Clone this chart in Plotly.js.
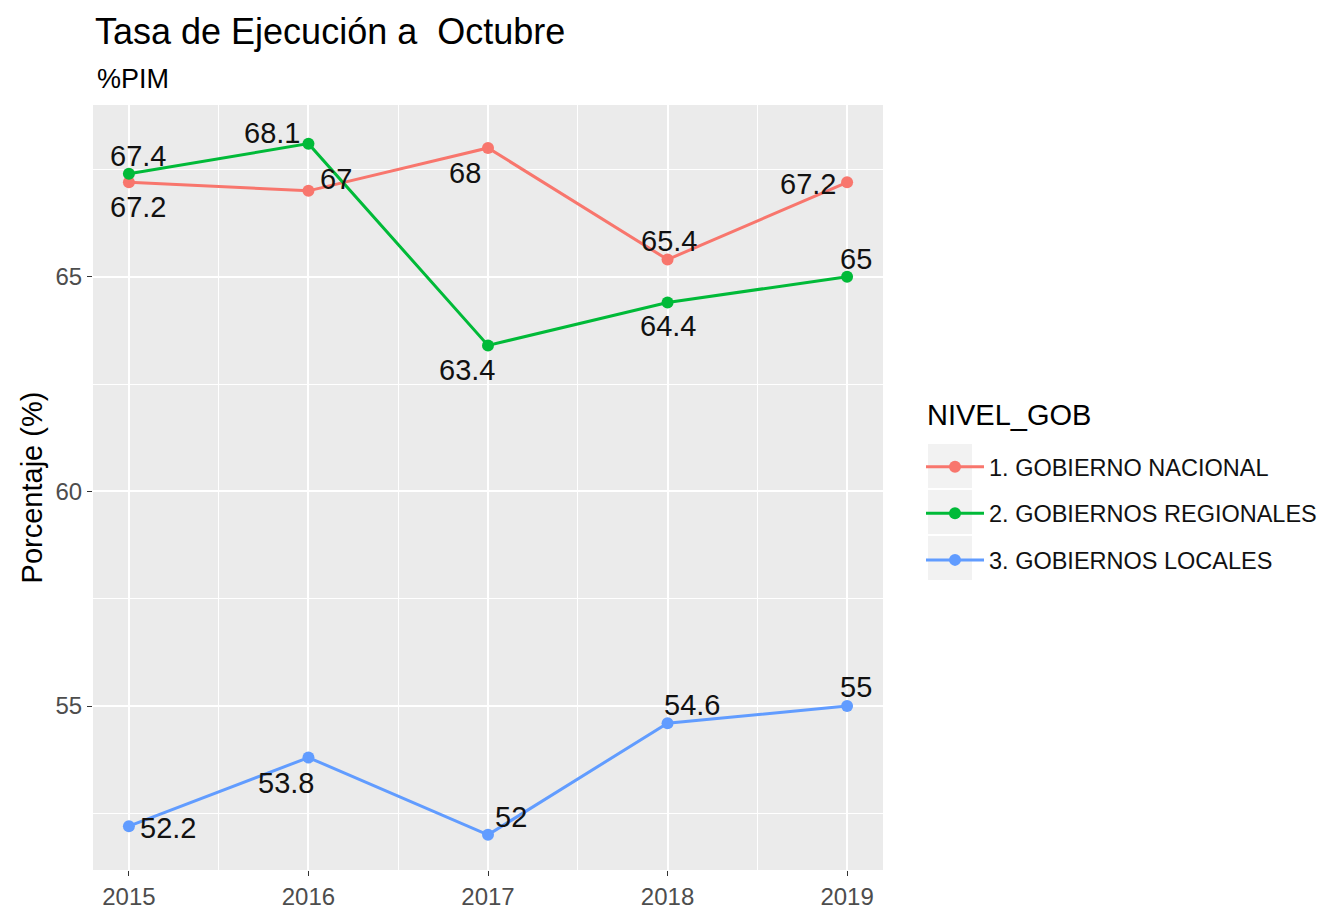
<!DOCTYPE html>
<html>
<head>
<meta charset="utf-8">
<script src="https://cdn.plot.ly/plotly-3.0.1.min.js"></script>
<style>
  body { margin: 0; background: #fff; }
  #chart { width: 1319px; height: 910px; }
</style>
</head>
<body>
<div id="chart"></div>
<script>
// Años y tasas de ejecución (%PIM)
var years = [2015, 2016, 2017, 2018, 2019];
var nacional = [67.2, 67, 68, 65.4, 67.2];
var regionales = [67.4, 68.1, 63.4, 64.4, 65];
var locales = [52.2, 53.8, 52, 54.6, 55];

var names = ['1. GOBIERNO NACIONAL', '2. GOBIERNOS REGIONALES', '3. GOBIERNOS LOCALES'];
var colors = ['#F8766D', '#00BA38', '#619CFF'];

// desplazamiento de cada etiqueta respecto a su punto (px, [dx, dy] con dy hacia arriba)
var shiftNac = [[9, -25], [28, 12], [-23, -25], [1, 19], [-39, -2]];
var shiftReg = [[9, 18], [-36, 11], [-21, -25], [0, -24], [9, 18]];
var shiftLoc = [[39, -2], [-22, -25], [23, 18], [24, 18], [9, 19]];

function serie(vals, i) {
  return {
    x: years,
    y: vals,
    name: names[i],
    legendgroup: 'g' + i,
    type: 'scatter',
    mode: 'lines+markers',
    line: { color: colors[i], width: 3 },
    marker: { color: colors[i], size: 12 },
    cliponaxis: false
  };
}

var data = [
  serie(nacional, 0),
  serie(regionales, 1),
  serie(locales, 2)
];

function etiquetas(vals, shifts) {
  return vals.map(function (v, j) {
    return {
      x: years[j], y: v, xref: 'x', yref: 'y',
      text: String(v), showarrow: false,
      xshift: shifts[j][0], yshift: shifts[j][1],
      font: { family: 'Liberation Sans, Arial', size: 29, color: '#111' }
    };
  });
}

var annotations = []
  .concat(etiquetas(nacional, shiftNac))
  .concat(etiquetas(regionales, shiftReg))
  .concat(etiquetas(locales, shiftLoc));

annotations.push({
  xref: 'paper', yref: 'paper', x: (95 - 93) / 790, y: (870 - 79) / 765,
  xanchor: 'left', yanchor: 'middle', showarrow: false,
  text: '%PIM', font: { size: 27, color: '#000' }
});
annotations.push({
  xref: 'paper', yref: 'paper', x: (925 - 93) / 790, y: (870 - 415) / 765,
  xanchor: 'left', yanchor: 'middle', showarrow: false,
  text: 'NIVEL_GOB', font: { size: 29, color: '#000' }
});

// cajas grises de la leyenda
var keyBoxes = [0, 1, 2].map(function (k) {
  return {
    type: 'rect', xref: 'paper', yref: 'paper', layer: 'below',
    x0: (928 - 93) / 790, x1: (972 - 93) / 790,
    y0: (870 - (444 + 46 * k + 44)) / 765, y1: (870 - (444 + 46 * k)) / 765,
    fillcolor: '#F2F2F2', line: { width: 0 }
  };
});

var layout = {
  width: 1319,
  height: 910,
  paper_bgcolor: '#ffffff',
  plot_bgcolor: '#EBEBEB',
  font: { family: 'Liberation Sans, Arial', color: '#000' },
  margin: { l: 93, r: 436, t: 105, b: 40 },
  title: {
    text: 'Tasa de Ejecución a  Octubre',
    font: { size: 36, color: '#000' },
    xref: 'container', x: 95 / 1319, xanchor: 'left',
    yref: 'container', y: 1 - 31 / 910, yanchor: 'middle'
  },
  xaxis: {
    range: [2014.8, 2019.2],
    tickvals: years,
    ticks: 'outside', ticklen: 5, tickcolor: '#333', tickwidth: 1,
    tickfont: { size: 24, color: '#4D4D4D' },
    showgrid: true, gridcolor: '#ffffff', gridwidth: 2,
    minor: { dtick: 0.5, tick0: 2014.5, showgrid: true, gridcolor: '#ffffff', gridwidth: 1 },
    zeroline: false, showline: false
  },
  yaxis: {
    range: [51.18, 69.0],
    tickvals: [55, 60, 65],
    ticks: 'outside', ticklen: 5, tickcolor: '#333', tickwidth: 1,
    tickfont: { size: 24, color: '#4D4D4D' },
    showgrid: true, gridcolor: '#ffffff', gridwidth: 2,
    minor: { dtick: 2.5, tick0: 52.5, showgrid: true, gridcolor: '#ffffff', gridwidth: 1 },
    zeroline: false, showline: false,
    title: { text: 'Porcentaje (%)', font: { size: 29, color: '#000' }, standoff: 4 }
  },
  annotations: annotations,
  shapes: keyBoxes,
  showlegend: true,
  legend: {
    xref: 'container', x: 921 / 1319, xanchor: 'left',
    yref: 'container', y: 1 - 447 / 910 + 2 / 910, yanchor: 'top',
    bgcolor: 'rgba(0,0,0,0)',
    font: { size: 23.5, color: '#111' },
    itemwidth: 58,
    tracegroupgap: 13
  }
};

Plotly.newPlot('chart', data, layout, { displayModeBar: false });
</script>
</body>
</html>
